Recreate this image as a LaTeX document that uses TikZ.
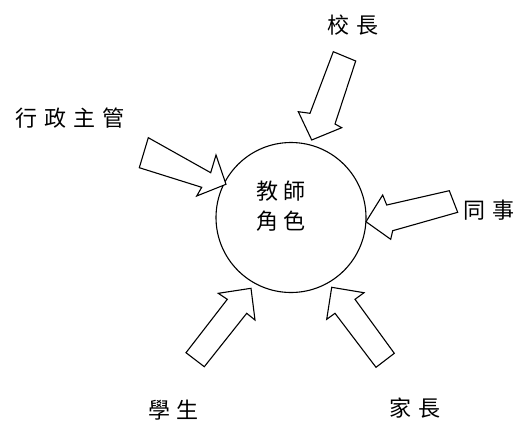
\documentclass[tikz,border=0pt]{standalone}
\usepackage{fontspec}
\newfontfamily\cjk{Noto Sans CJK TC}
\begin{document}
\begin{tikzpicture}[x=1pt,y=-1pt,
  blockarrow/.style={draw=black, line width=1.1pt, fill=white, line join=miter},
  lbl/.style={font=\cjk\fontsize{22}{26}\selectfont, inner sep=0pt, anchor=center}]
\useasboundingbox (0,0) rectangle (519,421);
\node[circle, draw, line width=1.1pt, minimum size=150pt, inner sep=0pt] (role) at (291,217.5) {};
\node[lbl] (role1) at (281,191) {教\hspace{6pt}師};
\node[lbl] (role2) at (281,221) {角\hspace{6pt}色};
% arrows
\draw[blockarrow] (333.3,51.7) -- (355.7,61) -- (335,124) -- (341.7,127.7) -- (311.7,140) -- (298.3,111.7) -- (310,113.3) -- cycle;
\draw[blockarrow] (148.3,137.7) -- (210.7,172.7) -- (216,155) -- (226,184.3) -- (196.7,196) -- (201.7,187.3) -- (139.3,167.7) -- cycle;
\draw[blockarrow] (366,221.7) -- (382.7,195) -- (386.7,205) -- (449.3,190.7) -- (457.7,212.3) -- (392.7,230.7) -- (390.7,239.3) -- cycle;
\draw[blockarrow] (251,288.3) -- (255,320) -- (246.7,313.3) -- (204.3,366.7) -- (186,352.7) -- (227.3,299.3) -- (218.3,293.3) -- cycle;
\draw[blockarrow] (331.7,287.3) -- (364,292.7) -- (355,299.3) -- (394.3,353.3) -- (376,367.3) -- (335,313.3) -- (326.7,319.3) -- cycle;
% labels
\node[lbl] (principal) at (353,25) {校\hspace{7pt}長};
\node[lbl] (admin) at (70,118) {行\hspace{7pt}政\hspace{7pt}主\hspace{7pt}管};
\node[lbl] (colleague) at (489,210) {同\hspace{7pt}事};
\node[lbl] (student) at (173.5,410) {學\hspace{7pt}生};
\node[lbl] (parent) at (415,408) {家\hspace{7pt}長};
\end{tikzpicture}
\end{document}
